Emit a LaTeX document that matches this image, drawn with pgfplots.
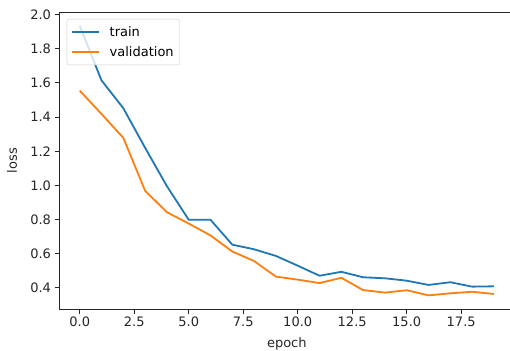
\documentclass[border=0pt]{standalone}
\usepackage{pgfplots}
\pgfplotsset{compat=1.18}
\usepackage{fontspec}
\setmainfont{DejaVu Sans}
\definecolor{tabblue}{HTML}{1F77B4}
\definecolor{taborange}{HTML}{FF7F0E}
\definecolor{spine}{HTML}{262626}
\pgfplotsset{
  mplline/.style={legend image code/.code={\draw[##1] (0pt,0pt) -- (27pt,0pt);}},
}
\begin{document}
\begin{tikzpicture}
\useasboundingbox (0,0) rectangle (510pt,350pt);
\clip (0,0) rectangle (510pt,350pt);
\begin{axis}[
  at={(59pt,41pt)}, anchor=south west,
  scale only axis, width=455.6pt, height=296.6pt,
  xmin=-0.95, xmax=19.95, ymin=0.275, ymax=2.0135,
  xtick={0,2.5,5,7.5,10,12.5,15,17.5},
  xticklabels={0.0,2.5,5.0,7.5,10.0,12.5,15.0,17.5},
  ytick={0.4,0.6,0.8,1.0,1.2,1.4,1.6,1.8,2.0},
  yticklabels={0.4,0.6,0.8,1.0,1.2,1.4,1.6,1.8,2.0},
  /pgf/number format/assume math mode=true,
  xtick pos=left, ytick pos=left,
  tick align=outside, major tick length=4.5pt,
  tick style={spine, line width=1pt},
  axis line style={spine, line width=1pt},
  tick label style={font=\fontsize{13}{15}\selectfont, text=spine},
  label style={font=\fontsize{13}{15}\selectfont, text=spine},
  xlabel={epoch}, ylabel={loss},
  xlabel style={at={(axis description cs:0.5,-0.1312)}, anchor=base},
  ylabel style={at={(axis description cs:-0.0922,0.5)}, anchor=base},
  legend cell align=left,
  legend style={at={(axis description cs:0,1)}, anchor=north west,
    xshift=7.7pt, yshift=-6.6pt, draw=black!20, rounded corners=2.5pt,
    fill=white, fill opacity=0.8, text opacity=1,
    inner xsep=4pt, inner ysep=5pt,
    font=\fontsize{13}{15}\selectfont,
    row sep=5pt, column sep=8pt},
]
\addplot[tabblue, line width=1.8pt, mplline] coordinates {
(0,1.935)(1,1.615)(2,1.452)(3,1.22)(4,0.995)(5,0.798)(6,0.798)(7,0.652)(8,0.625)(9,0.586)
(10,0.529)(11,0.47)(12,0.493)(13,0.461)(14,0.455)(15,0.441)(16,0.416)(17,0.432)(18,0.406)(19,0.408)};
\addlegendentry{train}
\addplot[taborange, line width=1.8pt, mplline] coordinates {
(0,1.555)(1,1.418)(2,1.278)(3,0.968)(4,0.842)(5,0.776)(6,0.706)(7,0.612)(8,0.556)(9,0.465)
(10,0.447)(11,0.427)(12,0.458)(13,0.386)(14,0.371)(15,0.385)(16,0.355)(17,0.367)(18,0.376)(19,0.363)};
\addlegendentry{validation}
\end{axis}
\end{tikzpicture}
\end{document}
